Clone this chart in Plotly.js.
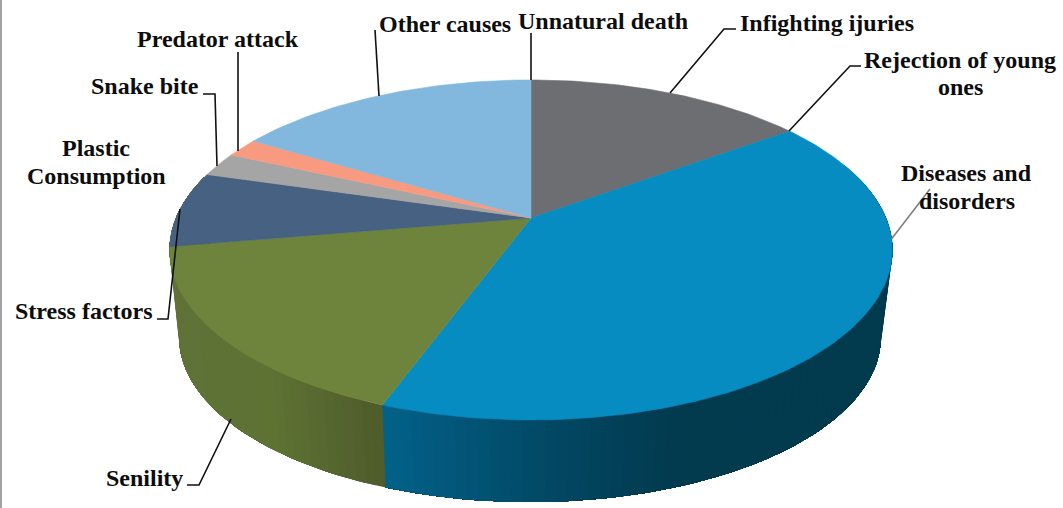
<!DOCTYPE html>
<html>
<head>
<meta charset="utf-8">
<script src="https://cdn.plot.ly/plotly-3.0.1.min.js"></script>
<style>html,body{margin:0;padding:0;background:#fff}#c{width:1063px;height:508px}</style>
</head>
<body>
<div id="c"></div>
<script>
// Data, clockwise from 12 o'clock (share of deaths, %)
const categories = ['Unnatural death','Infighting ijuries','Rejection of young ones','Diseases and disorders','Senility','Stress factors','Plastic Consumption','Snake bite','Predator attack','Other causes'];
const values = [0, 15, 0, 40.6, 16.7, 7.2, 0, 2.3, 1.8, 16.4];
const topColors = ['#999999','#6d6e71','#999999','#068cc0','#6e843d','#466182','#888888','#a5a5a5','#f79a80','#82b8de'];

// Side wall colour stops (pixel x, r, g, b)
const wallBlue = [[385,2,98,138],[500,2,79,110],[600,2,65,90],[680,2,58,78],[900,2,58,78]];
const wallGreen = [[160,96,114,56],[280,94,114,52],[385,78,91,43]];

// Text labels: [text, centre x, centre y]
const labels = [
  ['Other causes',445,24],['Unnatural death',603,21],['Infighting ijuries',827,23],
  ['Rejection of young',960,60],['ones',960,87],['Diseases and',966,173],['disorders',967,201],
  ['Predator attack',218,39],['Snake bite',145,86],['Plastic',96,148],['Consumption',96,176],
  ['Stress factors',84,311],['Senility',144,478]
];
// Leader lines
const leaders = [
  ['M375,30L379,96','#111'],['M531,33L531,80','#111'],['M736,29L724,29L670,93','#111'],
  ['M861,66L850,66L789,131','#111'],['M930,189L891.5,239','#7f7f7f'],
  ['M238,52L238,151','#111'],['M203,94L215,94L217,166','#111'],
  ['M157,319L168,319L180,209','#111'],['M187,485L199,485L231,419','#111']
];

// Perspective disc projection
const D = Math.PI/180, C = -0.188;
function topPt(t){const u=Math.sin(t*D),v=-Math.cos(t*D),w=1+C*v;return [531+355*u/w,(218+123*v)/w];}
function botPt(t){const p=topPt(t);return [530+0.971*(p[0]-531),306+0.971*(p[1]-218)];}
function rgb(c){return 'rgb('+c.map(Math.round).join(',')+')';}
function stopAt(st,x){
  if(x<=st[0][0])return st[0].slice(1);
  for(let i=1;i<st.length;i++){if(x<=st[i][0]){const a=st[i-1],b=st[i],f=(x-a[0])/(b[0]-a[0]);return [1,2,3].map(k=>a[k]+(b[k]-a[k])*f);}}
  return st[st.length-1].slice(1);
}
const total = values.reduce((a,b)=>a+b,0);
const edges=[];let acc=0;
values.forEach(v=>{edges.push([acc/total*360,(acc+v)/total*360]);acc+=v;});
const seam = edges[3][1];
const traces=[];
function poly(xs,ys,col,name,w){traces.push({type:'scatter',mode:'lines',x:xs,y:ys,fill:'toself',fillcolor:col,line:{color:col,width:w},name:name,hoverinfo:'name',showlegend:false});}
function wallPoly(t0,t1,stops,name){
  // each band runs on to the end of its own slice's wall, later bands paint over it
  const xs=[],ys=[];
  for(let t=t0;t<t1;t+=1.5){const p=topPt(t);xs.push(p[0]);ys.push(p[1]);}
  let p=topPt(t1);xs.push(p[0]);ys.push(p[1]);
  p=botPt(t1);xs.push(p[0]);ys.push(p[1]);
  for(let t=t1;t>t0;t-=1.5){const q=botPt(t);xs.push(q[0]);ys.push(q[1]);}
  p=botPt(t0);xs.push(p[0]);ys.push(p[1]);
  xs.push(xs[0]);ys.push(ys[0]);
  const mid=botPt(t0+0.75)[0];
  poly(xs,ys,rgb(stopAt(stops,mid)),name,0);
}
// Side wall bands, painted from each end of the slice so no seams show
for(let t=70;t<seam;t+=1.5) wallPoly(t,seam,wallBlue,categories[3]);
for(let t=seam;t<285;t+=1.5) wallPoly(t,285,wallGreen,categories[4]);

// Top face slices
values.forEach((v,i)=>{
  if(!v)return;
  const xs=[531],ys=[218];
  const n=Math.max(2,Math.ceil(edges[i][1]-edges[i][0]));
  for(let k=0;k<=n;k++){const p=topPt(edges[i][0]+(edges[i][1]-edges[i][0])*k/n);xs.push(p[0]);ys.push(p[1]);}
  xs.push(531);ys.push(218);
  poly(xs,ys,topColors[i],categories[i],0.6);
});

const layout={
  width:1063,height:508,margin:{l:0,r:0,t:0,b:0},
  paper_bgcolor:'#fff',plot_bgcolor:'#fff',showlegend:false,
  xaxis:{range:[0,1063],visible:false,fixedrange:true},
  yaxis:{range:[508,0],visible:false,fixedrange:true},
  annotations:labels.map(l=>({text:'<b>'+l[0]+'</b>',x:l[1],y:l[2],xref:'x',yref:'y',xanchor:'center',yanchor:'middle',showarrow:false,
    font:{family:'"Liberation Serif",serif',size:24,color:'#0d0d0d'}})),
  shapes:leaders.map(l=>({type:'path',path:l[0],xref:'x',yref:'y',line:{color:l[1],width:1.6},layer:'above'})).concat([
    {type:'rect',xref:'paper',yref:'paper',x0:0,x1:0.0019,y0:0,y1:1,fillcolor:'#a3a3a3',line:{width:0}}
  ])
};
Plotly.newPlot('c',traces,layout,{displayModeBar:false,staticPlot:true});
</script>
</body>
</html>
